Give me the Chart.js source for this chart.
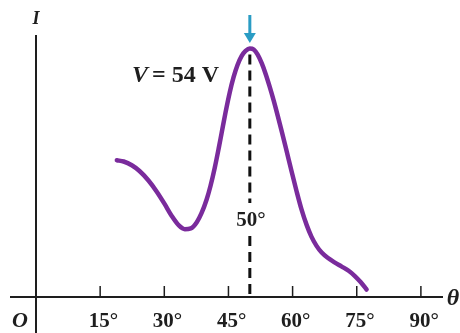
<!DOCTYPE html>
<html>
<head>
<meta charset="utf-8">
<script src="https://cdn.jsdelivr.net/npm/chart.js@4/dist/chart.umd.min.js"></script>
<style>
  html, body { margin: 0; padding: 0; background: #fff; }
  #wrap { width: 460px; height: 333px; }
</style>
</head>
<body>
<div id="wrap"><canvas id="curve" width="460" height="333"></canvas></div>
<script>
// scattering angle (degrees) and detector current (arbitrary units)
const angles = [18.9, 20.5, 22.4, 24.2, 26.3, 28.2, 30.1, 31.7, 33.4, 34.8, 36.2, 37.6, 38.7, 39.9,
                40.8, 41.8, 42.7, 43.4, 44.3, 45.3, 46.2, 47.1, 48.1, 49.0, 50.0, 50.9, 51.8, 52.8,
                53.7, 54.6, 55.6, 56.5, 57.4, 58.6, 59.8, 60.9, 62.1, 63.3, 64.4, 65.6, 66.8, 68.2,
                69.8, 71.5, 73.1, 74.5, 75.9, 77.3];
const current = [54.8, 54.3, 52.8, 50.5, 46.7, 42.3, 37.2, 32.6, 28.7, 27.2, 27.5, 30.0, 33.6, 39.1,
                 44.5, 51.8, 59.4, 65.7, 73.8, 82.0, 88.1, 92.9, 96.6, 98.6, 99.6, 99.2, 97.2, 93.6,
                 89.4, 84.5, 78.6, 72.8, 66.8, 58.5, 50.1, 42.6, 35.0, 28.8, 24.2, 20.5, 17.8, 15.7,
                 13.9, 12.2, 10.5, 8.5, 6.0, 3.0];
const tickAngles = [15, 30, 45, 60, 75, 90];
const peakAngle = 50;
const peakCurrent = 99.6;
const voltageLabel = '54 V';

const SERIF = '"Liberation Serif", "DejaVu Serif", serif';
const INK = '#1e1e1e';

// hand-drawn axes, ticks, dashed marker and labels
const axesPlugin = {
  id: 'axesPlugin',
  afterDatasetsDraw(chart) {
    const { ctx, chartArea: a, scales: { x, y } } = chart;
    const x0 = x.getPixelForValue(0);
    const y0 = y.getPixelForValue(0);
    ctx.save();

    // axes
    ctx.strokeStyle = INK;
    ctx.lineWidth = 2;
    ctx.beginPath();
    ctx.moveTo(a.left - 26, y0);
    ctx.lineTo(a.right + 5, y0);
    ctx.moveTo(x0, a.top);
    ctx.lineTo(x0, chart.height);
    ctx.stroke();

    // ticks + labels
    ctx.lineWidth = 1.5;
    ctx.fillStyle = INK;
    ctx.textBaseline = 'alphabetic';
    tickAngles.forEach(t => {
      const px = x.getPixelForValue(t);
      ctx.beginPath();
      ctx.moveTo(px, y0);
      ctx.lineTo(px, y0 - 11);
      ctx.stroke();
      ctx.font = 'bold 21px ' + SERIF;
      const digits = String(t);
      const w = ctx.measureText(digits).width;
      ctx.textAlign = 'left';
      ctx.fillText(digits + '°', px - w / 2 - 1, 327);
    });

    // axis names
    ctx.font = 'italic bold 22px ' + SERIF;
    ctx.textAlign = 'center';
    ctx.fillText('O', 20, 327);
    ctx.font = 'italic bold 18px ' + SERIF;
    ctx.fillText('I', 36, 24);
    ctx.font = 'italic bold 24px ' + SERIF;
    ctx.fillText('θ', 453, 305);

    // dashed line under the peak
    const px = x.getPixelForValue(peakAngle);
    const py = y.getPixelForValue(peakCurrent);
    const labelY = 226;
    ctx.strokeStyle = '#111';
    ctx.lineWidth = 3;
    ctx.setLineDash([10, 6]);
    ctx.beginPath();
    ctx.moveTo(px, py + 6);
    ctx.lineTo(px, 203);
    ctx.moveTo(px, 236);
    ctx.lineTo(px, y0);
    ctx.stroke();
    ctx.setLineDash([]);

    ctx.font = 'bold 21px ' + SERIF;
    const dw = ctx.measureText('50').width;
    ctx.textAlign = 'left';
    ctx.fillText(peakAngle + '°', px - dw / 2 - 3, labelY);

    // arrow marking the peak
    ctx.strokeStyle = '#2a9cc4';
    ctx.fillStyle = '#2a9cc4';
    ctx.lineWidth = 3;
    ctx.beginPath();
    ctx.moveTo(px, 15);
    ctx.lineTo(px, 36);
    ctx.stroke();
    ctx.beginPath();
    ctx.moveTo(px - 6, 33);
    ctx.lineTo(px + 6, 33);
    ctx.lineTo(px, 43);
    ctx.closePath();
    ctx.fill();

    // accelerating voltage
    ctx.fillStyle = INK;
    ctx.textAlign = 'left';
    let tx = 132;
    ctx.font = 'italic bold 24px ' + SERIF;
    ctx.fillText('V', tx, 82);
    tx += ctx.measureText('V').width + 4;
    ctx.font = 'bold 24px ' + SERIF;
    ctx.fillText('= ' + voltageLabel, tx, 82);

    ctx.restore();
  }
};

new Chart(document.getElementById('curve'), {
  type: 'line',
  data: {
    labels: angles,
    datasets: [{
      data: angles.map((a, i) => ({ x: a, y: current[i] })),
      borderColor: '#7a2b9c',
      borderWidth: 4.5,
      borderCapStyle: 'round',
      borderJoinStyle: 'round',
      pointRadius: 0,
      fill: false,
      cubicInterpolationMode: 'monotone'
    }]
  },
  options: {
    responsive: false,
    animation: false,
    layout: { padding: { left: 36, right: 22, top: 35, bottom: 36 } },
    plugins: { legend: { display: false }, tooltip: { enabled: false } },
    scales: {
      x: { type: 'linear', min: 0, max: 94, display: false },
      y: { min: 0, max: 105, display: false }
    }
  },
  plugins: [axesPlugin]
});
</script>
</body>
</html>
